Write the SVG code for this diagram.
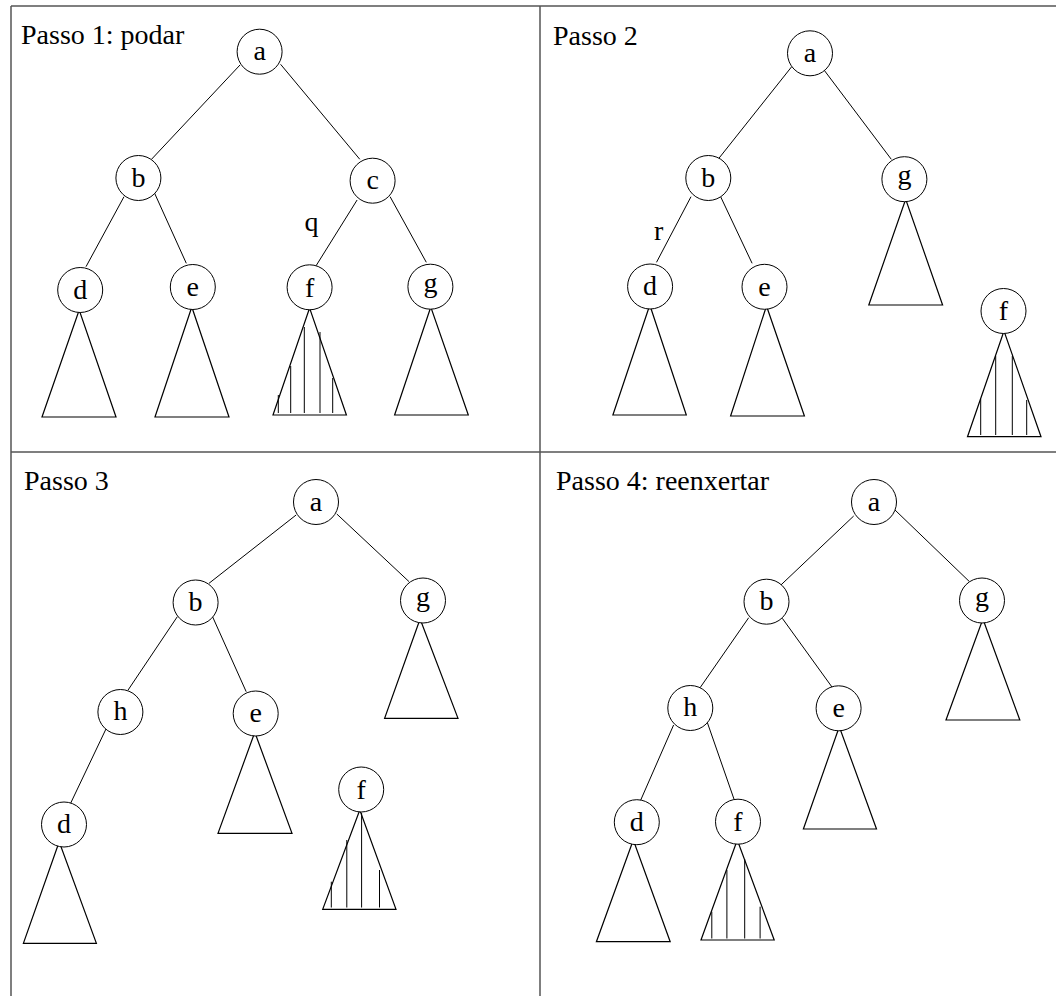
<svg xmlns="http://www.w3.org/2000/svg" width="1056" height="996" viewBox="0 0 1056 996">
<style>
.frame{stroke:#555;stroke-width:1.5;fill:none}
.edge{stroke:#000;stroke-width:1;fill:none}
.node circle{fill:#fff;stroke:#000;stroke-width:1}
.tri{fill:none;stroke:#000;stroke-width:1.2;stroke-linejoin:miter}
.hatch{stroke:#000;stroke-width:1}
text{font-family:"Liberation Serif","Times New Roman",serif;fill:#000}
.title{font-size:28px}
.lbl{font-size:28px;text-anchor:middle}
.elbl{font-size:28px}
</style>
<rect width="1056" height="996" fill="#fff"/>
<g id="frames">
<line class="frame" x1="11" y1="6" x2="1056" y2="6"/>
<line class="frame" x1="11" y1="6" x2="11" y2="996"/>
<line class="frame" x1="11" y1="452" x2="1056" y2="452"/>
<line class="frame" x1="540" y1="6" x2="540" y2="996"/>
</g>
<g id="titles">
<text class="title" x="21" y="44">Passo 1: podar</text>
<text class="title" x="553" y="44.5">Passo 2</text>
<text class="title" x="24" y="490">Passo 3</text>
<text class="title" x="556" y="490">Passo 4: reenxertar</text>
</g>
<g id="connectors">
<!-- panel 1 -->
<line class="edge" x1="240" y1="65" x2="151.5" y2="159.3"/>
<line class="edge" x1="280.6" y1="64.3" x2="359.8" y2="159.3"/>
<line class="edge" x1="124" y1="196.7" x2="86" y2="266.7"/>
<line class="edge" x1="153.9" y1="191.7" x2="186.3" y2="263.3"/>
<line class="edge" x1="357.1" y1="200" x2="316.1" y2="265.7"/>
<line class="edge" x1="390.1" y1="196.7" x2="426.3" y2="262.3"/>
<text class="elbl" x="304.5" y="231">q</text>
<!-- panel 2 -->
<line class="edge" x1="791.7" y1="66.7" x2="718.9" y2="158.3"/>
<line class="edge" x1="823.5" y1="69.3" x2="891.3" y2="159.3"/>
<line class="edge" x1="691" y1="196.7" x2="656.5" y2="262.3"/>
<line class="edge" x1="719.5" y1="194.3" x2="752.1" y2="263.3"/>
<text class="elbl" x="654" y="240">r</text>
<!-- panel 3 -->
<line class="edge" x1="296.1" y1="515" x2="209" y2="583.3"/>
<line class="edge" x1="336.8" y1="514" x2="409.1" y2="581.7"/>
<line class="edge" x1="177.3" y1="616.7" x2="128.1" y2="690"/>
<line class="edge" x1="211.8" y1="615" x2="246.2" y2="691.7"/>
<line class="edge" x1="107.4" y1="726" x2="70.6" y2="803.3"/>
<!-- panel 4 -->
<line class="edge" x1="853.7" y1="516" x2="780.9" y2="585"/>
<line class="edge" x1="895" y1="510" x2="969.5" y2="581.7"/>
<line class="edge" x1="748.7" y1="617.7" x2="700.1" y2="687.7"/>
<line class="edge" x1="782.3" y1="618.3" x2="832.9" y2="688.3"/>
<line class="edge" x1="673.6" y1="725" x2="640" y2="801.7"/>
<line class="edge" x1="706.8" y1="721" x2="734.3" y2="800"/>
</g>
<!-- subtrees (triangles) -->
<g id="p1-sub-d"><polygon class="tri" points="79.2,310 42,417 116,417"/></g>
<g id="p1-sub-e"><polygon class="tri" points="191.8,307 155,417 229,417"/></g>
<g id="p1-sub-f"><polygon class="tri" points="309.6,308 273,415 346.4,415"/>
<line class="hatch" x1="278.3" y1="395" x2="278.3" y2="413"/>
<line class="hatch" x1="290.7" y1="366" x2="290.7" y2="413"/>
<line class="hatch" x1="304.3" y1="327" x2="304.3" y2="413"/>
<line class="hatch" x1="320" y1="332" x2="320" y2="413"/>
<line class="hatch" x1="332.7" y1="378" x2="332.7" y2="413"/></g>
<g id="p1-sub-g"><polygon class="tri" points="430.8,307 394.6,415 468.3,415"/></g>
<g id="p2-sub-d"><polygon class="tri" points="649.8,305 612.9,415 686.3,415"/></g>
<g id="p2-sub-e"><polygon class="tri" points="766.5,306 730.6,416 804.4,416"/></g>
<g id="p2-sub-g"><polygon class="tri" points="905.7,199.3 868.8,305 942.6,305"/></g>
<g id="p2-sub-f"><polygon class="tri" points="1004,331 967.5,436.7 1041,436.7"/>
<line class="hatch" x1="980.7" y1="399" x2="980.7" y2="435"/>
<line class="hatch" x1="995.7" y1="356" x2="995.7" y2="435"/>
<line class="hatch" x1="1012.3" y1="356" x2="1012.3" y2="435"/>
<line class="hatch" x1="1026.7" y1="400" x2="1026.7" y2="435"/></g>
<g id="p3-sub-g"><polygon class="tri" points="420.1,619 384.6,718.3 458,718.3"/></g>
<g id="p3-sub-e"><polygon class="tri" points="254.8,732.3 218,833.3 292,833.3"/></g>
<g id="p3-sub-d"><polygon class="tri" points="59.2,841.7 23.4,943.3 96.4,943.3"/></g>
<g id="p3-sub-f"><polygon class="tri" points="359.8,810 322.7,909.3 396,909.3"/>
<line class="hatch" x1="331.3" y1="881.7" x2="331.3" y2="907.5"/>
<line class="hatch" x1="346.8" y1="840" x2="346.8" y2="907.5"/>
<line class="hatch" x1="361.6" y1="813" x2="361.6" y2="907.5"/>
<line class="hatch" x1="379.5" y1="870" x2="379.5" y2="907.5"/></g>
<g id="p4-sub-g"><polygon class="tri" points="982.9,619 946,720 1019.8,720"/></g>
<g id="p4-sub-e"><polygon class="tri" points="839.3,726.7 803.4,829 876.5,829"/></g>
<g id="p4-sub-d"><polygon class="tri" points="633.3,840 596.4,941.7 670.2,941.7"/></g>
<g id="p4-sub-f"><polygon class="tri" points="737.3,840 701,940 774.2,940"/>
<line class="hatch" x1="711.8" y1="911.7" x2="711.8" y2="938.5"/>
<line class="hatch" x1="726.9" y1="870" x2="726.9" y2="938.5"/>
<line class="hatch" x1="744.7" y1="859" x2="744.7" y2="938.5"/>
<line class="hatch" x1="760.1" y1="906.7" x2="760.1" y2="938.5"/></g>
<!-- nodes panel 1 -->
<g id="p1-a" class="node"><circle cx="259.6" cy="51.7" r="22.5"/><text class="lbl" x="259.6" y="60">a</text></g>
<g id="p1-b" class="node"><circle cx="138.4" cy="178" r="22.5"/><text class="lbl" x="138.4" y="186.5">b</text></g>
<g id="p1-c" class="node"><circle cx="372.6" cy="180.7" r="22.5"/><text class="lbl" x="372.6" y="189">c</text></g>
<g id="p1-d" class="node"><circle cx="80.2" cy="290" r="22.5"/><text class="lbl" x="80.2" y="299">d</text></g>
<g id="p1-e" class="node"><circle cx="192.8" cy="287" r="22.5"/><text class="lbl" x="192.8" y="295.5">e</text></g>
<g id="p1-f" class="node"><circle cx="309.6" cy="287.3" r="22.5"/><text class="lbl" x="309.6" y="297">f</text></g>
<g id="p1-g" class="node"><circle cx="430.4" cy="286.7" r="22.5"/><text class="lbl" x="430.4" y="291.5">g</text></g>
<!-- nodes panel 2 -->
<g id="p2-a" class="node"><circle cx="810" cy="53.3" r="22.5"/><text class="lbl" x="810" y="61.5">a</text></g>
<g id="p2-b" class="node"><circle cx="708.3" cy="178" r="22.5"/><text class="lbl" x="708.3" y="186.5">b</text></g>
<g id="p2-g" class="node"><circle cx="904.4" cy="179.2" r="22.5"/><text class="lbl" x="904.4" y="184">g</text></g>
<g id="p2-d" class="node"><circle cx="650.1" cy="286.5" r="22.5"/><text class="lbl" x="650.1" y="295">d</text></g>
<g id="p2-e" class="node"><circle cx="764.5" cy="286.8" r="22.5"/><text class="lbl" x="764.5" y="295.5">e</text></g>
<g id="p2-f" class="node"><circle cx="1003.5" cy="311" r="22.5"/><text class="lbl" x="1003.5" y="320">f</text></g>
<!-- nodes panel 3 -->
<g id="p3-a" class="node"><circle cx="316" cy="502" r="22.5"/><text class="lbl" x="316" y="510.5">a</text></g>
<g id="p3-b" class="node"><circle cx="195.6" cy="602.5" r="22.5"/><text class="lbl" x="195.6" y="611">b</text></g>
<g id="p3-g" class="node"><circle cx="423" cy="600.5" r="22.5"/><text class="lbl" x="423" y="605.5">g</text></g>
<g id="p3-h" class="node"><circle cx="120.4" cy="712" r="22.5"/><text class="lbl" x="120.4" y="720">h</text></g>
<g id="p3-e" class="node"><circle cx="255.7" cy="713.5" r="22.5"/><text class="lbl" x="255.7" y="721.5">e</text></g>
<g id="p3-d" class="node"><circle cx="64" cy="824.5" r="22.5"/><text class="lbl" x="64" y="833">d</text></g>
<g id="p3-f" class="node"><circle cx="361.2" cy="789.5" r="22.5"/><text class="lbl" x="361.2" y="798.5">f</text></g>
<!-- nodes panel 4 -->
<g id="p4-a" class="node"><circle cx="874" cy="502" r="22.5"/><text class="lbl" x="874" y="510.5">a</text></g>
<g id="p4-b" class="node"><circle cx="766.5" cy="601.7" r="22.5"/><text class="lbl" x="766.5" y="610">b</text></g>
<g id="p4-g" class="node"><circle cx="982" cy="600.5" r="22.5"/><text class="lbl" x="982" y="605.5">g</text></g>
<g id="p4-h" class="node"><circle cx="690.3" cy="708" r="22.5"/><text class="lbl" x="690.3" y="716">h</text></g>
<g id="p4-e" class="node"><circle cx="838.6" cy="708.3" r="22.5"/><text class="lbl" x="838.6" y="716.5">e</text></g>
<g id="p4-d" class="node"><circle cx="636.8" cy="822.2" r="22.5"/><text class="lbl" x="636.8" y="830.5">d</text></g>
<g id="p4-f" class="node"><circle cx="738" cy="821.7" r="22.5"/><text class="lbl" x="738" y="830.5">f</text></g>
</svg>
